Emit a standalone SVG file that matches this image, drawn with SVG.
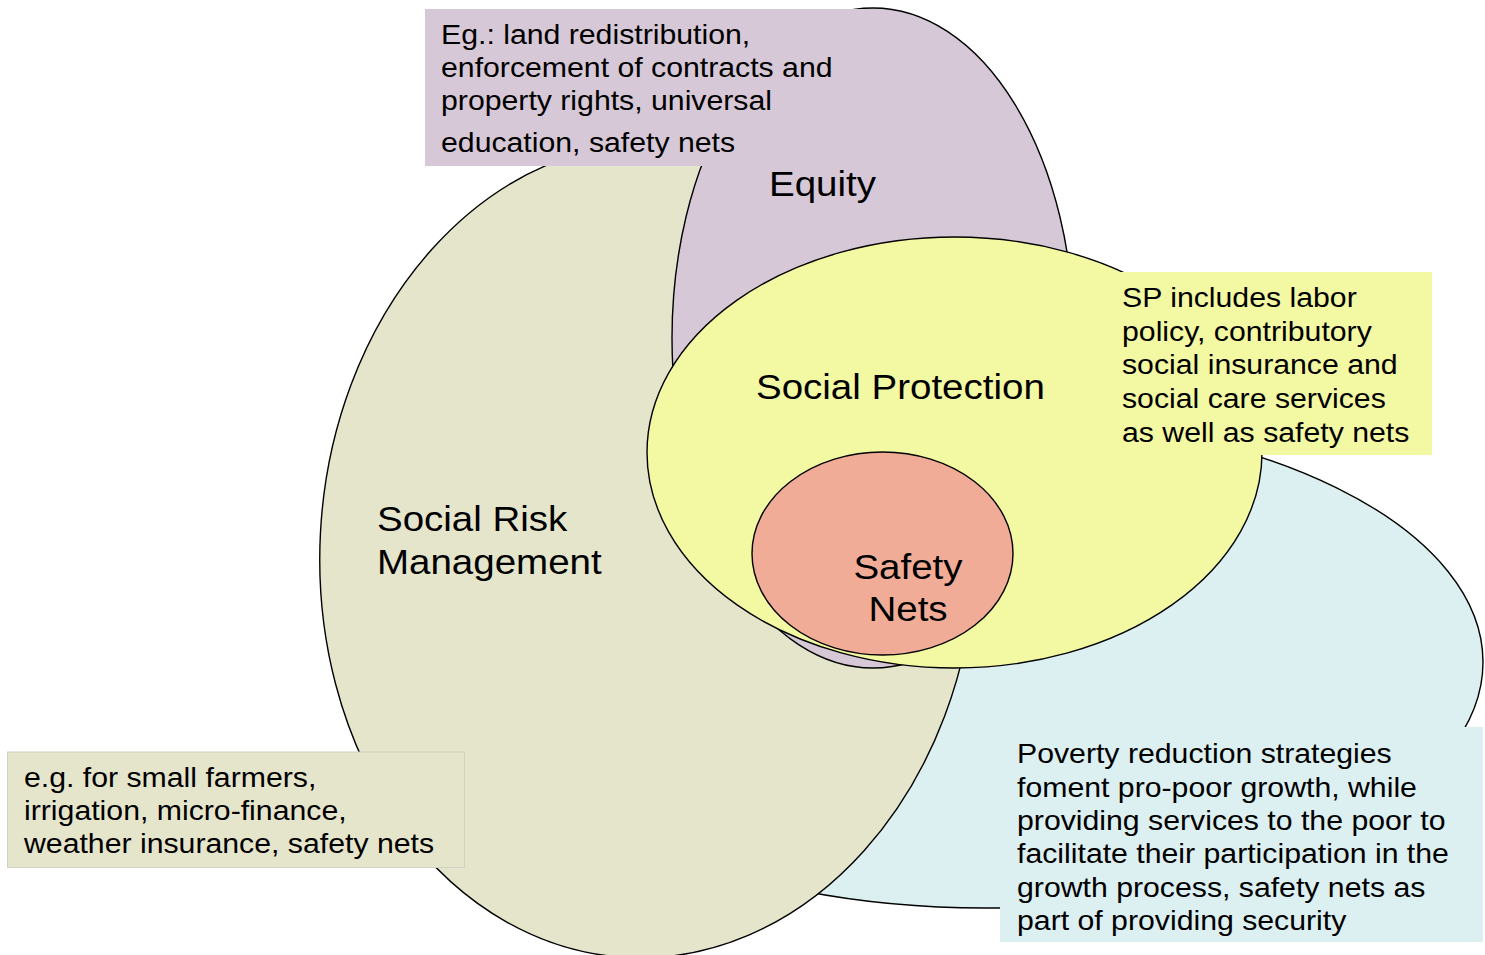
<svg xmlns="http://www.w3.org/2000/svg" width="1485" height="955" viewBox="0 0 1485 955">
<style>
.sh{stroke:#000;stroke-width:1.4}
.t{font-family:"Liberation Sans",Arial,sans-serif;fill:#000}
.b{font-size:27.5px}
.h{font-size:35px}
</style>
<rect width="1485" height="955" fill="#fff"/>
<g id="poverty-reduction">
<ellipse class="sh" cx="985" cy="662" rx="498" ry="246" fill="#dcefF1"/>
</g>
<g id="social-risk-management">
<ellipse class="sh" cx="648" cy="550" rx="328" ry="408" transform="rotate(3 648 550)" fill="#e5e5cc"/>
<g transform="translate(377,0) scale(1.1,1)"><text class="t h" x="0" y="531">Social Risk</text><text class="t h" x="0" y="574">Management</text></g>
</g>
<g id="equity">
<ellipse class="sh" cx="873" cy="338" rx="201" ry="330" fill="#d6c8d6"/>
<g transform="translate(769,0) scale(1.1,1)"><text class="t h" x="0" y="196">Equity</text></g>
</g>
<g id="social-protection">
<ellipse class="sh" cx="954.5" cy="452.5" rx="307.5" ry="215.5" fill="#f3f8a3"/>
<g transform="translate(756,0) scale(1.1,1)"><text class="t h" x="0" y="399">Social Protection</text></g>
</g>
<g id="safety-nets">
<ellipse class="sh" cx="882.5" cy="553.5" rx="130.5" ry="101.5" fill="#f0ac96"/>
<g transform="translate(908,0) scale(1.1,1)"><text class="t h" x="0" y="579" text-anchor="middle">Safety</text><text class="t h" x="0" y="621" text-anchor="middle">Nets</text></g>
</g>
<g id="equity-note">
<rect x="425" y="9" width="455" height="157" fill="#d6c8d6"/>
<g transform="translate(441,0) scale(1.1,1)">
<text class="t b" x="0" y="44">Eg.: land redistribution,</text>
<text class="t b" x="0" y="77">enforcement of contracts and</text>
<text class="t b" x="0" y="110">property rights, universal</text>
<text class="t b" x="0" y="152">education, safety nets</text>
</g>
</g>
<g id="sp-note">
<rect x="1105" y="272" width="327" height="183" fill="#f3f8a3"/>
<g transform="translate(1122,0) scale(1.1,1)">
<text class="t b" x="0" y="307">SP includes labor</text>
<text class="t b" x="0" y="341">policy, contributory</text>
<text class="t b" x="0" y="374">social insurance and</text>
<text class="t b" x="0" y="408">social care services</text>
<text class="t b" x="0" y="442">as well as safety nets</text>
</g>
</g>
<g id="srm-note">
<rect x="7.5" y="752" width="457" height="115.5" fill="#e5e5cc" stroke="#d2d2c4" stroke-width="1"/>
<g transform="translate(24,0) scale(1.1,1)">
<text class="t b" x="0" y="787">e.g. for small farmers,</text>
<text class="t b" x="0" y="820">irrigation, micro-finance,</text>
<text class="t b" x="0" y="853">weather insurance, safety nets</text>
</g>
</g>
<g id="poverty-note">
<rect x="1000" y="727" width="483" height="215" fill="#dcefF1"/>
<g transform="translate(1017,0) scale(1.1,1)">
<text class="t b" x="0" y="763">Poverty reduction strategies</text>
<text class="t b" x="0" y="797">foment pro-poor growth, while</text>
<text class="t b" x="0" y="830">providing services to the poor to</text>
<text class="t b" x="0" y="863">facilitate their participation in the</text>
<text class="t b" x="0" y="897">growth process, safety nets as</text>
<text class="t b" x="0" y="930">part of providing security</text>
</g>
</g>
<g id="connectors"></g>
</svg>
